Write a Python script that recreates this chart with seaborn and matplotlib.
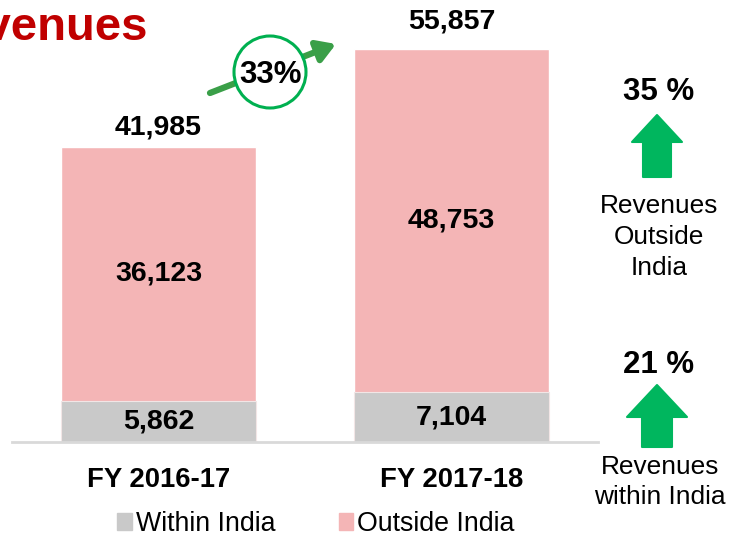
import matplotlib
matplotlib.use("Agg")
import matplotlib.pyplot as plt
from matplotlib.patches import Patch, Polygon, Circle
import seaborn as sns
import pandas as pd

# ===== data =====
years = ["FY 2016-17", "FY 2017-18"]
within_india = [5862, 7104]
outside_india = [36123, 48753]
growth_total = "33%"
growth_outside = "35 %"
growth_within = "21 %"

pink = "#F4B5B6"
grey = "#C9C9C9"
green = "#00B65E"

sns.set_theme(style="white")
plt.rcParams["font.family"] = ["Liberation Sans", "DejaVu Sans"]
plt.rcParams["text.color"] = "black"

df = pd.DataFrame({"year": years, "within": within_india, "outside": outside_india})
df["total"] = df["within"] + df["outside"]

W, H = 731, 539
fig = plt.figure(figsize=(W / 100, H / 100), dpi=100)
ax = fig.add_axes([12 / W, (H - 442) / H, 586 / W, 442 / H])

# stacked bars: total (pink) first, within (grey) on top of it from zero
sns.barplot(data=df, x="year", y="total", color=pink, width=0.665, ax=ax, saturation=1)
sns.barplot(data=df, x="year", y="within", color=grey, width=0.665, ax=ax, saturation=1,
            edgecolor="#F2E6E6", linewidth=0.8)

ax.set_xlim(-0.5, 1.5)
ax.set_ylim(0, 62800)
ax.set_xlabel("")
ax.set_ylabel("")
ax.set_yticks([])
for side in ["top", "right", "left"]:
    ax.spines[side].set_visible(False)
ax.spines["bottom"].set_color("#D9D9D9")
ax.spines["bottom"].set_linewidth(2)
ax.tick_params(axis="x", length=0, pad=18)
for lab in ax.get_xticklabels():
    lab.set_fontsize(19.8)
    lab.set_fontweight("bold")
    lab.set_color("black")

label_gap = [14, 20]  # points between bar top and total label centre
for i, row in df.iterrows():
    ax.text(i, row["within"] / 2, f"{row['within']:,}", ha="center", va="center",
            fontsize=20.5, fontweight="bold", color="black")
    ax.text(i, row["within"] + row["outside"] / 2, f"{row['outside']:,}", ha="center",
            va="center", fontsize=20.5, fontweight="bold", color="black")
    ax.annotate(f"{row['total']:,}", (i, row["total"]), xytext=(0, label_gap[i]),
                textcoords="offset points", ha="center", va="center",
                fontsize=20.5, fontweight="bold", color="black")

# legend
handles = [Patch(color=grey, label="Within India"), Patch(color=pink, label="Outside India")]
fig.legend(handles=handles, loc="center", bbox_to_anchor=(316 / W, 1 - 524 / H), ncol=2,
           frameon=False, fontsize=19.3, handlelength=0.55, handleheight=0.55,
           handletextpad=0.15, columnspacing=2.35, borderpad=0, labelcolor="black")

# overlay in pixel coordinates for decorations
ov = fig.add_axes([0, 0, 1, 1], zorder=5)
ov.set_xlim(0, W)
ov.set_ylim(H, 0)
ov.axis("off")
ov.patch.set_alpha(0)

ov.text(148, 40, "Revenues", ha="right", va="baseline", fontsize=34,
        fontweight="bold", color="#C00000")

ov.annotate("", xy=(336, 44), xytext=(210, 93),
            arrowprops=dict(arrowstyle="-|>,head_length=0.9,head_width=0.55",
                            color="#3A9F48", lw=4.5, shrinkA=0, shrinkB=0))
ov.add_patch(Circle((270, 72), 36, facecolor="white", edgecolor="#00B050", lw=2.2, zorder=3))
ov.text(271, 75, growth_total, ha="center", va="center", fontsize=22.5,
        fontweight="bold", color="black", zorder=4)


def up_arrow(cx, top, head_base, bottom, half_head, half_shaft):
    pts = [(cx, top), (cx - half_head, head_base), (cx - half_shaft, head_base),
           (cx - half_shaft, bottom), (cx + half_shaft, bottom), (cx + half_shaft, head_base),
           (cx + half_head, head_base)]
    ov.add_patch(Polygon(pts, closed=True, facecolor=green, edgecolor=green,
                         lw=1.5, joinstyle="round"))


ov.text(659, 92, growth_outside, ha="center", va="center", fontsize=22.5, fontweight="bold")
up_arrow(657, 115, 142, 177, 25, 14)
ov.text(659, 237, "Revenues\nOutside\nIndia", ha="center", va="center", fontsize=18.9,
        linespacing=1.36)

ov.text(659, 365, growth_within, ha="center", va="center", fontsize=22.5, fontweight="bold")
up_arrow(657, 385, 417, 447, 30, 15)
ov.text(660, 482, "Revenues\nwithin India", ha="center", va="center", fontsize=18.9,
        linespacing=1.35)

fig.savefig("out.png", dpi=100)
